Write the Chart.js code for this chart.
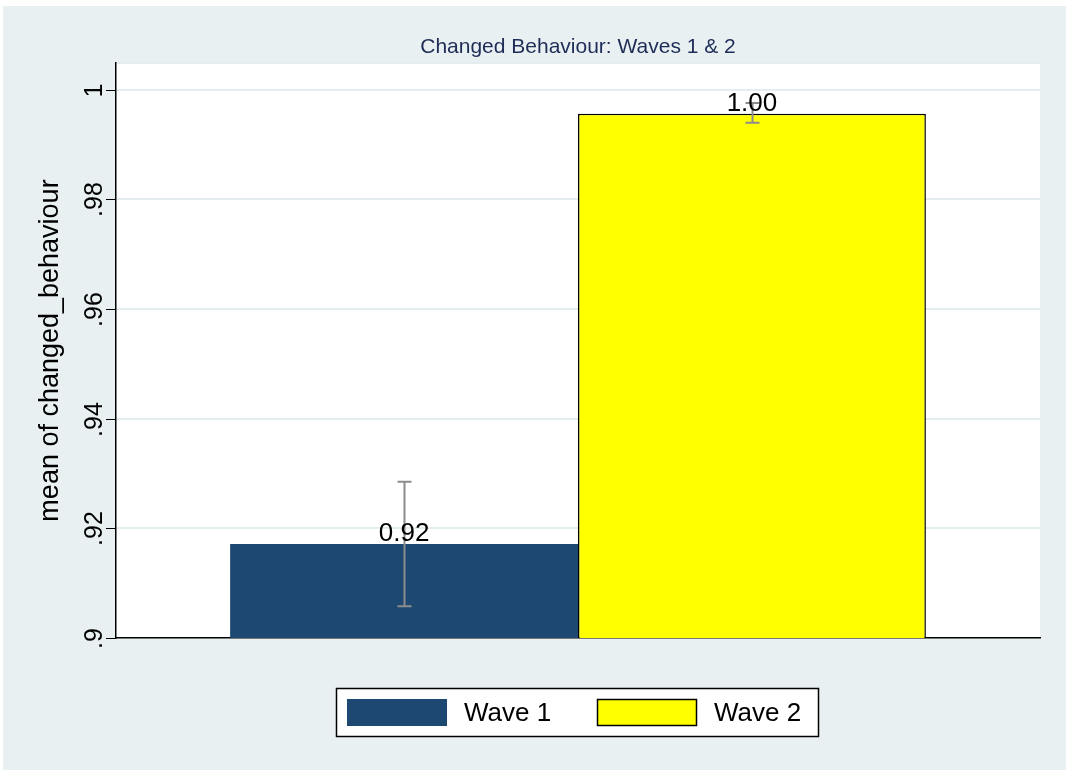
<!DOCTYPE html>
<html>
<head>
<meta charset="utf-8">
<title>Changed Behaviour: Waves 1 & 2</title>
<script src="https://cdn.jsdelivr.net/npm/chart.js@4/dist/chart.umd.min.js"></script>
<style>
  html, body { margin: 0; padding: 0; background: #fff; }
  #wrap { width: 1070px; height: 770px; }
</style>
</head>
<body>
<div id="wrap"><canvas id="grafico" width="1070" height="770"></canvas></div>
<script>
// datos
const categorias = ['Wave 1', 'Wave 2'];
const medias = [0.91715, 0.99562];
const ciBajo = [0.9058, 0.9940];
const ciAlto = [0.9285, 0.9976];
const colores = ['#1d4871', '#ffff00'];
const bordes = ['#1d4871', '#000000'];
const ticksY = [0.9, 0.92, 0.94, 0.96, 0.98, 1];
const etiquetasY = ['.9', '.92', '.94', '.96', '.98', '1'];

const FUENTE = '"Liberation Sans", Arial, sans-serif';

// fondo gris exterior y area blanca del grafico
const fondo = {
  id: 'fondo',
  beforeDraw(chart) {
    const { ctx, chartArea: a } = chart;
    ctx.save();
    ctx.fillStyle = '#ffffff';
    ctx.fillRect(0, 0, chart.width, chart.height);
    ctx.fillStyle = '#e8f0f2';
    ctx.fillRect(3, 6, 1063, 764);
    ctx.fillStyle = '#ffffff';
    ctx.fillRect(a.left, a.top, a.right - a.left, a.bottom - a.top);
    ctx.restore();
  }
};

// eje Y al estilo Stata: marcas y etiquetas giradas
const ejeY = {
  id: 'ejeY',
  afterDraw(chart) {
    const { ctx, chartArea: a } = chart;
    const y = chart.scales.y;
    ctx.save();
    ctx.strokeStyle = '#000';
    ctx.lineWidth = 1;
    ctx.fillStyle = '#000';
    ctx.font = '25px ' + FUENTE;
    ctx.textAlign = 'center';
    ctx.textBaseline = 'alphabetic';
    ticksY.forEach((v, i) => {
      const py = Math.round(y.getPixelForValue(v)) + 0.5;
      ctx.beginPath();
      ctx.moveTo(a.left - 10, py);
      ctx.lineTo(a.left, py);
      ctx.stroke();
      ctx.save();
      ctx.translate(102, py);
      ctx.rotate(-Math.PI / 2);
      ctx.fillText(etiquetasY[i], 0, 0);
      ctx.restore();
    });
    // titulo del eje
    ctx.font = '27px ' + FUENTE;
    ctx.save();
    ctx.translate(58, (a.top + a.bottom) / 2);
    ctx.rotate(-Math.PI / 2);
    ctx.fillText('mean of changed_behaviour', 0, 0);
    ctx.restore();
    // titulo
    ctx.font = '21px ' + FUENTE;
    ctx.fillStyle = '#1e2c56';
    ctx.fillText('Changed Behaviour: Waves 1 & 2', (a.left + a.right) / 2, 53);
    ctx.restore();
  }
};

// barras de error y etiquetas de valor
const errores = {
  id: 'errores',
  afterDatasetsDraw(chart) {
    const { ctx } = chart;
    const y = chart.scales.y;
    ctx.save();
    chart.data.datasets.forEach((ds, i) => {
      const barra = chart.getDatasetMeta(i).data[0];
      const x = Math.round(barra.x) + 0.5;
      const y1 = y.getPixelForValue(ciAlto[i]);
      const y0 = y.getPixelForValue(ciBajo[i]);
      ctx.strokeStyle = '#8c8c8c';
      ctx.lineWidth = 2;
      ctx.beginPath();
      ctx.moveTo(x, y0); ctx.lineTo(x, y1);
      ctx.moveTo(x - 7, y0); ctx.lineTo(x + 7, y0);
      ctx.moveTo(x - 7, y1); ctx.lineTo(x + 7, y1);
      ctx.stroke();
      ctx.fillStyle = '#000';
      ctx.font = '26px ' + FUENTE;
      ctx.textAlign = 'center';
      ctx.textBaseline = 'alphabetic';
      ctx.fillText(ds.data[0].toFixed(2), barra.x, barra.y - 3);
    });
    ctx.restore();
  }
};

// leyenda con recuadro
const leyenda = {
  id: 'leyenda',
  afterDraw(chart) {
    const { ctx } = chart;
    ctx.save();
    ctx.fillStyle = '#fff';
    ctx.fillRect(336, 688, 482, 48);
    ctx.strokeStyle = '#000';
    ctx.lineWidth = 1.5;
    ctx.strokeRect(336.5, 688.5, 482, 48);
    const xs = [347, 597];
    chart.data.datasets.forEach((ds, i) => {
      ctx.fillStyle = ds.backgroundColor;
      ctx.fillRect(xs[i], 699, 100, 27);
      if (ds.borderWidth) {
        ctx.strokeStyle = ds.borderColor;
        ctx.lineWidth = 1.5;
        ctx.strokeRect(xs[i] + 0.5, 699.5, 99, 26);
      }
      ctx.fillStyle = '#000';
      ctx.font = '26px ' + FUENTE;
      ctx.textAlign = 'left';
      ctx.textBaseline = 'middle';
      ctx.fillText(ds.label, xs[i] + 117, 714);
    });
    ctx.restore();
  }
};

const ctx = document.getElementById('grafico').getContext('2d');
const grafico = new Chart(ctx, {
  type: 'bar',
  data: {
    labels: [''],
    datasets: categorias.map((c, i) => ({
      label: c,
      data: [medias[i]],
      backgroundColor: colores[i],
      borderColor: bordes[i],
      borderWidth: i === 1 ? 1.5 : 0,
      borderSkipped: false,
      categoryPercentage: 0.753,
      barPercentage: 1.0
    }))
  },
  options: {
    responsive: false,
    animation: false,
    layout: { padding: { left: 116, right: 30, top: 63, bottom: 132 } },
    plugins: {
      legend: { display: false },
      tooltip: { enabled: false },
      title: { display: false }
    },
    scales: {
      x: {
        grid: { display: false },
        ticks: { display: false },
        border: { display: true, color: '#000', width: 1.5 },
        afterFit(s) { s.height = 0; }
      },
      y: {
        min: 0.9,
        max: 1.0049,
        ticks: { display: false, stepSize: 0.02 },
        grid: {
          drawTicks: false,
          color: (c) => (c.tick && c.tick.value > 0.905 ? '#e4edf0' : 'rgba(0,0,0,0)'),
          lineWidth: 2
        },
        border: { display: true, color: '#000', width: 1.5 },
        afterFit(s) { s.width = 0; }
      }
    }
  },
  plugins: [fondo, ejeY, errores, leyenda]
});
</script>
</body>
</html>
